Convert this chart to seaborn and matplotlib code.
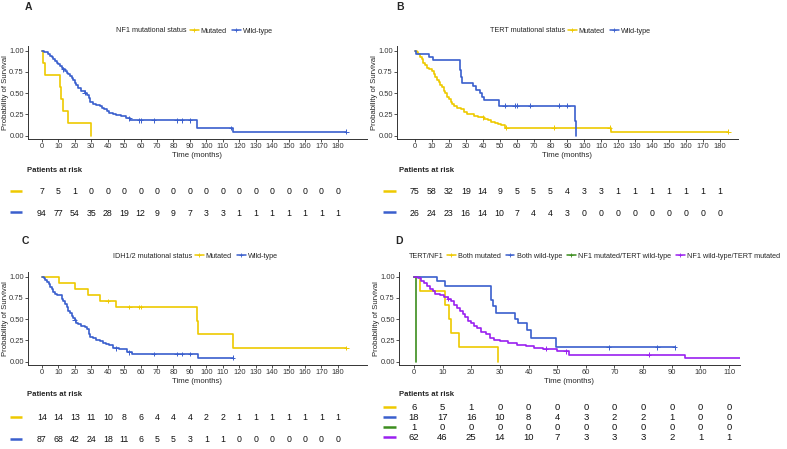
import numpy as np
import pandas as pd
import matplotlib
matplotlib.use("Agg")
import matplotlib.pyplot as plt
from matplotlib.lines import Line2D
import seaborn as sns

W, H = 787, 449

YELLOW = "#EEC900"
BLUE = "#3A5FCD"
GREEN = "#3C8D1E"
PURPLE = "#9A20F0"

# ── Panel A: NF1 ──────────────────────────────────────────────────────────────
A_MUT_T = [0, 0.5, 2, 11, 11.8, 12.8, 16, 30]
A_MUT_S = [1, 0.857, 0.714, 0.571, 0.429, 0.286, 0.143, 0.0]
A_MUT_C = []
A_WT_T = [0, 1.5, 2.5, 3.5, 5, 6, 7, 8, 9, 10, 11, 12, 13, 14, 15, 16, 17, 18, 19, 20,
          21, 22, 24, 26, 27.5, 28.5, 29.5, 31, 33, 35, 36.5, 38, 39.5, 41, 43, 45, 48,
          51, 53.5, 94.5, 116, 185]
A_WT_S = [1, .99, .98, .96, .94, .92, .90, .875, .86, .84, .82, .80, .78, .76, .74, .72,
          .70, .675, .65, .625, .60, .555, .525, .505, .48, .44, .39, .375, .365, .345,
          .325, .31, .295, .27, .255, .24, .225, .205, .18, .09, .045, .045]
A_WT_C = [13, 26, 53, 59, 60, 68, 82, 85, 90, 115, 185]

# ── Panel B: TERT ─────────────────────────────────────────────────────────────
B_MUT_T = [0, 1, 2, 3, 4, 5, 6, 7, 8, 9, 10, 11, 12, 13, 14, 15, 16, 17, 18, 19, 20,
           21, 22, 23, 25, 27, 29, 31, 33, 35, 37, 39, 41, 43, 45, 47, 49, 51, 53, 116, 185]
B_MUT_S = [1, .987, .96, .93, .90, .86, .83, .80, .79, .78, .76, .72, .69, .66, .63, .60,
           .57, .53, .50, .46, .43, .40, .37, .35, .33, .31, .28, .26, .25, .235, .22,
           .215, .20, .18, .165, .15, .14, .13, .094, .047, .047]
B_MUT_C = [40, 54, 82, 115, 185]
B_WT_T = [0, 0.6, 8, 10.5, 26.6, 27.2, 28, 34, 36, 38.5, 39.5, 41, 49.5, 94.3, 95]
B_WT_S = [1, .962, .923, .885, .77, .69, .62, .58, .54, .50, .46, .42, .35, .175, 0]
B_WT_C = [53, 59, 60, 68, 85, 90]

# ── Panel C: IDH1/2 ───────────────────────────────────────────────────────────
C_MUT_T = [0, 10.3, 20.3, 28, 35, 45, 94.3, 95, 116, 185]
C_MUT_S = [1, .929, .857, .786, .714, .643, .48, .32, .16, .16]
C_MUT_C = [40, 53, 59, 60, 185]
C_WT_T = [0, 1, 2, 3, 4, 5, 6, 7, 8, 9, 10, 12, 13, 14, 15, 16, 17, 18, 19, 20, 21, 22,
          24, 26, 27.5, 28.5, 29.5, 31, 33, 35, 37, 39, 41, 43, 47, 52, 55, 95, 116]
C_WT_S = [1, .99, .965, .94, .91, .88, .85, .82, .80, .785, .78, .74, .71, .68, .64, .60,
          .57, .54, .51, .49, .46, .44, .42, .41, .38, .32, .29, .275, .26, .24, .22,
          .21, .19, .155, .15, .11, .09, .045, .045]
C_WT_C = [20, 45, 53, 68, 82, 85, 90, 116]

# ── Panel D: TERT/NF1 ─────────────────────────────────────────────────────────
D_BM_T = [0, 2, 10.8, 12.3, 13, 15.8, 29.5]
D_BM_S = [1, .833, .667, .5, .333, .167, 0]
D_BM_C = []
D_BW_T = [0, 7.9, 10.8, 26.8, 27.5, 28.8, 35.3, 36.5, 39.4, 40.7, 49.5, 91]
D_BW_S = [1, .944, .889, .72, .65, .57, .50, .45, .37, .28, .17, .17]
D_BW_C = [68, 85, 91]
D_NM_T = [0, 0.7]
D_NM_S = [1, 0]
D_NM_C = []
D_TM_T = [0, 1.5, 2.5, 3.5, 4.5, 5.5, 6.5, 7.5, 9, 10.5, 12, 13, 14, 15, 16, 17, 18, 19,
          20, 21, 22, 23.5, 25, 26.5, 28, 30, 33, 36, 39, 42, 45, 50, 54, 94.5, 185]
D_TM_S = [1, .984, .95, .92, .89, .86, .83, .80, .78, .76, .74, .71, .67, .63, .59, .56,
          .52, .48, .45, .42, .39, .35, .32, .28, .26, .24, .22, .20, .18, .16, .15, .12,
          .08, .04, .04]
D_TM_C = [12, 46, 53, 82, 185]

# ── Risk tables ───────────────────────────────────────────────────────────────
RISK_T_LONG = list(range(0, 190, 10))
RISK_T_SHORT = list(range(0, 120, 10))
A_RISK_MUT = [7, 5, 1, 0, 0, 0, 0, 0, 0, 0, 0, 0, 0, 0, 0, 0, 0, 0, 0]
A_RISK_WT = [94, 77, 54, 35, 28, 19, 12, 9, 9, 7, 3, 3, 1, 1, 1, 1, 1, 1, 1]
B_RISK_MUT = [75, 58, 32, 19, 14, 9, 5, 5, 5, 4, 3, 3, 1, 1, 1, 1, 1, 1, 1]
B_RISK_WT = [26, 24, 23, 16, 14, 10, 7, 4, 4, 3, 0, 0, 0, 0, 0, 0, 0, 0, 0]
C_RISK_MUT = [14, 14, 13, 11, 10, 8, 6, 4, 4, 4, 2, 2, 1, 1, 1, 1, 1, 1, 1]
C_RISK_WT = [87, 68, 42, 24, 18, 11, 6, 5, 5, 3, 1, 1, 0, 0, 0, 0, 0, 0, 0]
D_RISK_BM = [6, 5, 1, 0, 0, 0, 0, 0, 0, 0, 0, 0]
D_RISK_BW = [18, 17, 16, 10, 8, 4, 3, 2, 2, 1, 0, 0]
D_RISK_NM = [1, 0, 0, 0, 0, 0, 0, 0, 0, 0, 0, 0]
D_RISK_TM = [62, 46, 25, 14, 10, 7, 3, 3, 3, 2, 1, 1]

sns.set_style("ticks")
plt.rcParams["font.family"] = ["Liberation Sans", "DejaVu Sans"]
plt.rcParams["axes.edgecolor"] = "#333333"
plt.rcParams["xtick.color"] = "#333333"
plt.rcParams["ytick.color"] = "#333333"

fig = plt.figure(figsize=(W / 100, H / 100), dpi=100)

# overlay in pixel coordinates for labels / legends
ov = fig.add_axes([0, 0, 1, 1])
ov.set_xlim(0, W)
ov.set_ylim(H, 0)
ov.axis("off")


def px_axes(left, top, right, bottom):
    return fig.add_axes([left / W, 1 - bottom / H, (right - left) / W, (bottom - top) / H])


def step_at(t, s, tc):
    idx = np.searchsorted(np.asarray(t), np.asarray(tc), side="right") - 1
    return np.asarray(s)[idx]


def km_panel(box, xlim, ylim, xticks, curves):
    ax = px_axes(*box)
    frames, cens = [], []
    for name, t, s, c, col in curves:
        frames.append(pd.DataFrame({"time": t, "surv": s, "group": name}))
        if len(c):
            cens.append(pd.DataFrame({"time": c, "surv": step_at(t, s, c), "group": name}))
    df = pd.concat(frames, ignore_index=True)
    pal = {name: col for name, _, _, _, col in curves}
    sns.lineplot(data=df, x="time", y="surv", hue="group", palette=pal,
                 estimator=None, sort=False, drawstyle="steps-post",
                 lw=1.2, legend=False, ax=ax)
    if cens:
        cdf = pd.concat(cens, ignore_index=True)
        sns.scatterplot(data=cdf, x="time", y="surv", hue="group", palette=pal,
                        marker="+", s=12, linewidth=0.7, legend=False, ax=ax)
    ax.set_xlim(xlim)
    ax.set_ylim(ylim)
    ax.set_xticks(xticks)
    ax.set_yticks([0, 0.25, 0.5, 0.75, 1.0])
    ax.set_yticklabels(["0.00", "0.25", "0.50", "0.75", "1.00"])
    ax.tick_params(labelsize=5.4, length=2, width=0.6, pad=1)
    ax.set_xlabel("Time (months)", fontsize=5.6, labelpad=1)
    ax.set_ylabel("Probability of Survival", fontsize=5.6, labelpad=0.5)
    for sp in ("left", "bottom"):
        ax.spines[sp].set_linewidth(0.7)
    sns.despine(ax=ax)
    return ax


def legend(title, title_x, y, names, colors):
    ov.text(title_x, y, title, ha="right", va="center", fontsize=5.2)
    handles = [Line2D([], [], color=c, lw=1.1, marker="+", ms=3, mew=0.6) for c in colors]
    fig.legend(handles, names, loc="center left", bbox_to_anchor=(title_x + 3, y),
               bbox_transform=ov.transData, ncol=len(names), frameon=False,
               fontsize=5.2, handlelength=1.2, handletextpad=0.3, columnspacing=0.7,
               borderpad=0, borderaxespad=0)


def risk_table(box, xlim, times, rows, ys, colors, fs, title_xy, marker_x):
    left, top, right, bottom = box
    tax = px_axes(left, top, right, bottom)
    tax.set_xlim(xlim)
    tax.set_ylim(bottom, top)
    tax.axis("off")
    for vals, y in zip(rows, ys):
        for t, v in zip(times, vals):
            tax.text(t, y, str(v), ha="center", va="center", fontsize=fs, color="#111111")
    ov.text(title_xy[0], title_xy[1], "Patients at risk", ha="left", va="center",
            fontsize=5.6, fontweight="bold")
    for y, c in zip(ys, colors):
        ov.plot(marker_x, [y - 1.5, y - 1.5], color=c, lw=1.8, solid_capstyle="butt")


# panel geometry (pixels): left, top, right, bottom
BOX_A = (28, 46, 367, 139)
BOX_B = (397, 46, 738, 139)
BOX_C = (28, 272, 367, 365)
BOX_D = (399, 272, 740, 365)
XL_A = (-8.5, 197.7)
XL_B = (-10.6, 190.7)
XL_D = (-5.2, 113.8)
YL = (-0.04, 1.055)
TICKS_LONG = list(range(0, 190, 10))
TICKS_SHORT = list(range(0, 120, 10))

km_panel(BOX_A, XL_A, YL, TICKS_LONG, [
    ("Mutated", A_MUT_T, A_MUT_S, A_MUT_C, YELLOW),
    ("Wild-type", A_WT_T, A_WT_S, A_WT_C, BLUE)])
km_panel(BOX_B, XL_B, YL, TICKS_LONG, [
    ("Mutated", B_MUT_T, B_MUT_S, B_MUT_C, YELLOW),
    ("Wild-type", B_WT_T, B_WT_S, B_WT_C, BLUE)])
km_panel(BOX_C, XL_A, YL, TICKS_LONG, [
    ("Mutated", C_MUT_T, C_MUT_S, C_MUT_C, YELLOW),
    ("Wild-type", C_WT_T, C_WT_S, C_WT_C, BLUE)])
km_panel(BOX_D, XL_D, YL, TICKS_SHORT, [
    ("Both mutated", D_BM_T, D_BM_S, D_BM_C, YELLOW),
    ("Both wild-type", D_BW_T, D_BW_S, D_BW_C, BLUE),
    ("NF1 mutated/TERT wild-type", D_NM_T, D_NM_S, D_NM_C, GREEN),
    ("NF1 wild-type/TERT mutated", D_TM_T, D_TM_S, D_TM_C, PURPLE)])

# panel letters
for letter, x, y in [("A", 28, 7), ("B", 400, 7), ("C", 25, 241), ("D", 399, 241)]:
    ov.text(x, y, letter, ha="center", va="center", fontsize=7.5, fontweight="bold")

# log-rank annotations
ov.text(223, 60, "Log-rank,p = 0.002", ha="left", va="center", fontsize=5.5)
ov.text(598, 60, "Log-rank, p = 0.001", ha="left", va="center", fontsize=5.5)
ov.text(224, 285, "Log-rank, p <0.001", ha="left", va="center", fontsize=5.5)
ov.text(638, 286, "Log-rank, p < 0.001", ha="left", va="center", fontsize=5.5)

# legends
legend("NF1 mutational status", 187, 31, ["Mutated", "Wild-type"], [YELLOW, BLUE])
legend("TERT mutational status", 565, 31, ["Mutated", "Wild-type"], [YELLOW, BLUE])
legend("IDH1/2 mutational status", 192, 256, ["Mutated", "Wild-type"], [YELLOW, BLUE])
legend("TERT/NF1", 444, 256,
       ["Both mutated", "Both wild-type", "NF1 mutated/TERT wild-type",
        "NF1 wild-type/TERT mutated"], [YELLOW, BLUE, GREEN, PURPLE])

# risk tables
risk_table((BOX_A[0], 180, BOX_A[2], 225), XL_A, RISK_T_LONG, [A_RISK_MUT, A_RISK_WT],
           [192, 213], [YELLOW, BLUE], 6.3, (27, 170), [10, 22])
risk_table((BOX_B[0], 180, BOX_B[2], 225), XL_B, RISK_T_LONG, [B_RISK_MUT, B_RISK_WT],
           [192, 213], [YELLOW, BLUE], 6.3, (399, 170), [383, 396])
risk_table((BOX_C[0], 405, BOX_C[2], 449), XL_A, RISK_T_LONG, [C_RISK_MUT, C_RISK_WT],
           [418, 440], [YELLOW, BLUE], 6.3, (27, 395), [10, 22])
risk_table((BOX_D[0], 400, BOX_D[2], 449), XL_D, RISK_T_SHORT,
           [D_RISK_BM, D_RISK_BW, D_RISK_NM, D_RISK_TM],
           [408, 418, 428, 438], [YELLOW, BLUE, GREEN, PURPLE], 6.8, (399, 395), [383, 396])

fig.savefig("out.png", dpi=100)
